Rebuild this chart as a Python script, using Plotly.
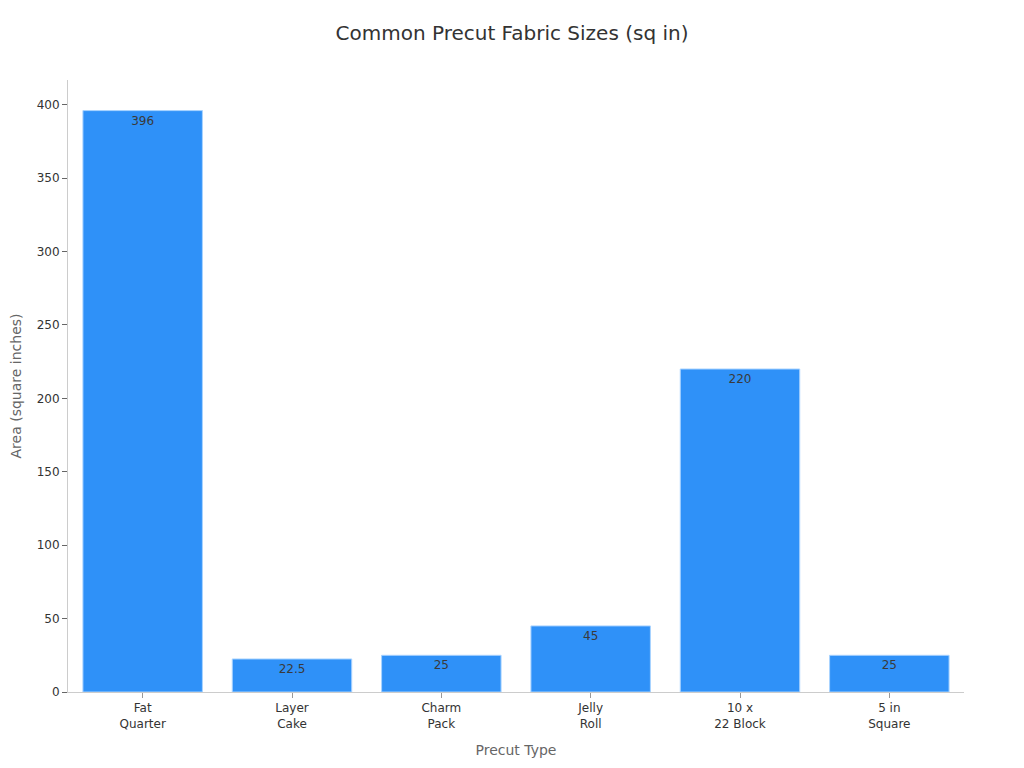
import plotly.graph_objects as go

# -----------------------------
# DATA
# -----------------------------
precut_types = ["Fat<br>Quarter", "Layer<br>Cake", "Charm<br>Pack", "Jelly<br>Roll", "10 x<br>22 Block", "5 in<br>Square"]
areas = [396, 22.5, 25, 45, 220, 25]
labels = ["396", "22.5", "25", "45", "220", "25"]

# -----------------------------
# FIGURE
# -----------------------------
fig = go.Figure()
fig.add_trace(go.Bar(
    x=precut_types,
    y=areas,
    text=labels,
    textposition="inside",
    insidetextanchor="end",
    textfont=dict(color="#3a3a3a", size=12),
    marker=dict(color="#2f91f8", line=dict(color="#a8d3ff", width=1)),
    hoverinfo="x+y",
))

fig.update_layout(
    title=dict(text="Common Precut Fabric Sizes (sq in)", x=0.5, xanchor="center",
               yref="container", y=0.967, yanchor="middle",
               font=dict(size=20, color="#333333")),
    font=dict(family="DejaVu Sans, sans-serif", size=12, color="#333333"),
    plot_bgcolor="white",
    paper_bgcolor="white",
    width=1008, height=752,
    margin=dict(l=60, r=52, t=72, b=68),
    bargap=0.2,
    showlegend=False,
)

fig.update_xaxes(
    title=dict(text="Precut Type", font=dict(size=14, color="#666666")),
    showline=True, linecolor="#cccccc", linewidth=1,
    ticks="outside", tickcolor="#999999", ticklen=5,
    showgrid=False, automargin=False,
)
fig.update_yaxes(
    title=dict(text="Area (square inches)", font=dict(size=14, color="#666666")),
    showline=True, linecolor="#cccccc", linewidth=1,
    ticks="outside", tickcolor="#666666", ticklen=5,
    showgrid=False, zeroline=False, automargin=False,
    dtick=50,
)

fig.write_html("out.html")
